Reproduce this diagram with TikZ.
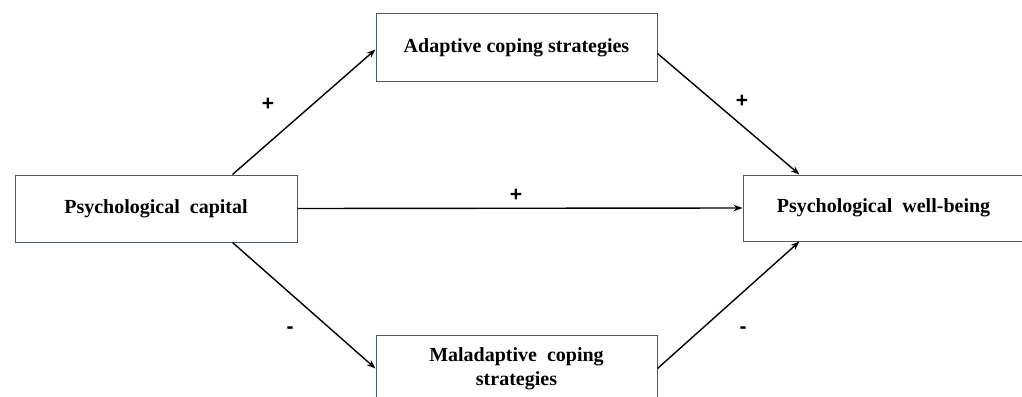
\documentclass[tikz,border=0pt]{standalone}
\usepackage{fontspec}
\setmainfont{Liberation Serif}
\newfontfamily\signfont{Liberation Sans}
\usetikzlibrary{arrows.meta,calc}
\begin{document}
\begin{tikzpicture}[x=1pt,y=-1pt,
  box/.style={draw=boxc, line width=1pt, minimum width=281pt, minimum height=67pt, inner sep=0pt, align=center, font=\fontsize{20}{24}\selectfont\bfseries},
  conn/.style={line width=1.4pt, -{Stealth[length=9pt,width=6.5pt]}},
  sign/.style={font=\signfont\fontsize{21}{24}\selectfont\bfseries, inner sep=0pt}]
\definecolor{boxc}{HTML}{4A5868}
\clip (0,0) rectangle (1022,396);
\useasboundingbox (0,0) rectangle (1022,396);
\node[box, minimum width=282pt] (cap) at (156,208.5) {Psychological\ \ capital};
\node[box] (ad) at (516.5,47.5) {Adaptive coping strategies};
\node[box] (mal) at (516.5,368.5) {Maladaptive\ \ coping\\strategies};
\node[box, minimum height=66pt] (wb) at (883.5,208) {Psychological\ \ well-being};
\coordinate (capT) at ($(cap.north west)+(218,0)$);
\coordinate (capB) at ($(cap.south west)+(218,0)$);
\coordinate (wbT) at ($(wb.north west)+(57,0)$);
\coordinate (wbB) at ($(wb.south west)+(57,0)$);
\coordinate (adE) at ($(ad.east)+(0,6)$);
\coordinate (adW) at ($(ad.west)+(0,2)$);
\draw[conn] (capT) -- (adW);
\draw[conn] (adE) -- (wbT);
\draw[conn] (cap.east) -- (wb.west);
\draw[conn] (capB) -- (mal.west);
\draw[conn] (mal.east) -- (wbB);
\node[sign] (s1) at (268,104) {+};
\node[sign] (s2) at (742,101) {+};
\node[sign] (s3) at (516,195) {+};
\node[sign] (s4) at (290,330) {-};
\node[sign] (s5) at (743,330) {-};
\end{tikzpicture}
\end{document}
